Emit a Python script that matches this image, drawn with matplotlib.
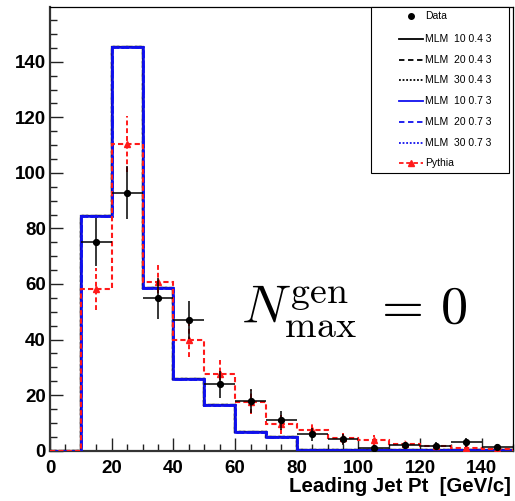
import numpy as np
import matplotlib
matplotlib.use("Agg")
import matplotlib.pyplot as plt
from matplotlib.lines import Line2D
from matplotlib.patches import Rectangle

# ---------------- data ----------------
edges = np.arange(0, 160, 10)
centers = edges[:-1] + 5

mlm_04 = [0, 84.5, 145.3, 58.7, 25.7, 16.3, 6.8, 4.8, 0.3, 0.2, 0.1, 0.1, 0.1, 0.1, 0.1]
mlm_07 = [0, 84.5, 145.3, 58.7, 25.7, 16.3, 6.8, 4.8, 0.3, 0.2, 0.1, 0.1, 0.1, 0.1, 0.1]

pythia = [0, 58.1, 110.3, 60.6, 39.8, 27.7, 17.6, 9.5, 7.4, 4.5, 3.9, 2.3, 1.7, 0.9, 0.6]
pythia_err = [0, 7.6, 10.0, 6.6, 6.0, 5.0, 4.3, 3.5, 2.6, 2.0, 1.8, 1.4, 1.2, 0.9, 0.7]

data = [0, 75.0, 92.8, 54.8, 47.0, 23.9, 17.9, 10.9, 5.9, 4.1, 1.1, 1.9, 1.8, 3.0, 1.2]
data_err = [0, 8.6, 9.5, 7.3, 6.8, 4.8, 4.2, 3.3, 2.4, 2.0, 1.0, 1.4, 1.3, 1.7, 1.1]

legend_labels = ["Data", "MLM  10 0.4 3", "MLM  20 0.4 3", "MLM  30 0.4 3",
                 "MLM  10 0.7 3", "MLM  20 0.7 3", "MLM  30 0.7 3", "Pythia"]

# ---------------- figure ----------------
W, H = 515, 501
fig = plt.figure(figsize=(W / 100, H / 100), dpi=100)
plt.rcParams['font.family'] = ['Liberation Sans', 'DejaVu Sans']
plt.rcParams['mathtext.fontset'] = 'cm'

L, R, T, B = 50, 512.7, 7, 450.7
ax = fig.add_axes([L / W, 1 - B / H, (R - L) / W, (B - T) / H])

ls_list = ['-', (0, (3, 2)), (0, (1, 1))]
for ls in ls_list:
    ax.stairs(mlm_04, edges, baseline=0, color='black', lw=1.6, linestyle=ls, zorder=2)
for ls in ls_list:
    ax.stairs(mlm_07, edges, baseline=0, color='#1010ee', lw=1.8, linestyle=ls, zorder=3)

red = '#ff1a1a'
ax.stairs(pythia, edges, baseline=0, color=red, lw=1.5, linestyle=(0, (2.5, 1.5)), zorder=4)
m = np.array(pythia) > 0
eb = ax.errorbar(np.array(centers)[m], np.array(pythia)[m], yerr=np.array(pythia_err)[m],
                 fmt='^', color=red, ms=4.5, elinewidth=1.4, capsize=0, zorder=5)
eb[2][0].set_linestyle((0, (2.5, 1.5)))

md = np.array(data) > 0
ax.errorbar(np.array(centers)[md], np.array(data)[md], yerr=np.array(data_err)[md], xerr=5,
            fmt='o', color='black', ms=4.2, elinewidth=1.1, capsize=0, zorder=6)

ax.set_xlim(0, 150)
ax.set_ylim(0, 159.7)
ax.set_xticks(np.arange(0, 141, 20))
ax.set_xticks(np.arange(0, 151, 5), minor=True)
ax.set_yticks(np.arange(0, 141, 20))
ax.set_yticks(np.arange(0, 160, 5), minor=True)
ax.tick_params(which='both', direction='in', top=False, right=False, color='#222222')
ax.tick_params(which='major', length=9.5, width=1.0)
ax.tick_params(which='minor', length=5, width=1.0)
ax.tick_params(axis='x', which='major', pad=6.5)
ax.tick_params(axis='y', which='major', pad=3)
for lab in ax.get_xticklabels() + ax.get_yticklabels():
    lab.set_fontweight('bold')
    lab.set_fontsize(13.5)
for s in ['left', 'bottom']:
    ax.spines[s].set_linewidth(1.6)
    ax.spines[s].set_color('#333333')
for s in ['top', 'right']:
    ax.spines[s].set_linewidth(0.9)
    ax.spines[s].set_color('black')

fig.text(511 / W, 1 - 492 / H, "Leading Jet Pt  [GeV/c]", ha='right', va='baseline',
         fontsize=14.7, fontweight='bold')

ax.text((241 - L) / (R - L), (B - 324) / (B - T), r'$N_{\rm max}^{\rm gen}\;=\,0$',
        transform=ax.transAxes, fontsize=39, ha='left', va='baseline')

# ---------------- legend (drawn in axes coordinates) ----------------
def fx(px):
    return (px - L) / (R - L)

def fy(py):
    return (B - py) / (B - T)

tr = ax.transAxes
ax.add_patch(Rectangle((fx(371), fy(173)), fx(509) - fx(371), fy(7) - fy(173),
                       transform=tr, fill=True, facecolor='white', edgecolor='black',
                       lw=0.8, zorder=10, clip_on=False))
rows = [15.7, 39, 59.7, 80.4, 101.1, 121.8, 142.5, 163.2]
styles = [None,
          ('black', '-'), ('black', (0, (3, 2))), ('black', (0, (1, 1))),
          ('#1010ee', '-'), ('#1010ee', (0, (3, 2))), ('#1010ee', (0, (1, 1))),
          (red, (0, (2.5, 1.5)))]
for yy, lab, st in zip(rows, legend_labels, styles):
    if st is None:
        ax.add_line(Line2D([fx(411)], [fy(yy)], marker='o', ms=4, color='black',
                           transform=tr, zorder=11, clip_on=False))
    else:
        c, ls = st
        ax.add_line(Line2D([fx(399), fx(423)], [fy(yy), fy(yy)], color=c, lw=1.3,
                           linestyle=ls, transform=tr, zorder=11, clip_on=False))
        if lab == "Pythia":
            ax.add_line(Line2D([fx(411)], [fy(yy)], marker='^', ms=4, color=red,
                               transform=tr, zorder=12, clip_on=False))
    ax.text(fx(425), fy(yy), lab, transform=tr, fontsize=7.5, ha='left', va='center',
            zorder=12, color='black')

fig.savefig("out.png", dpi=100)
